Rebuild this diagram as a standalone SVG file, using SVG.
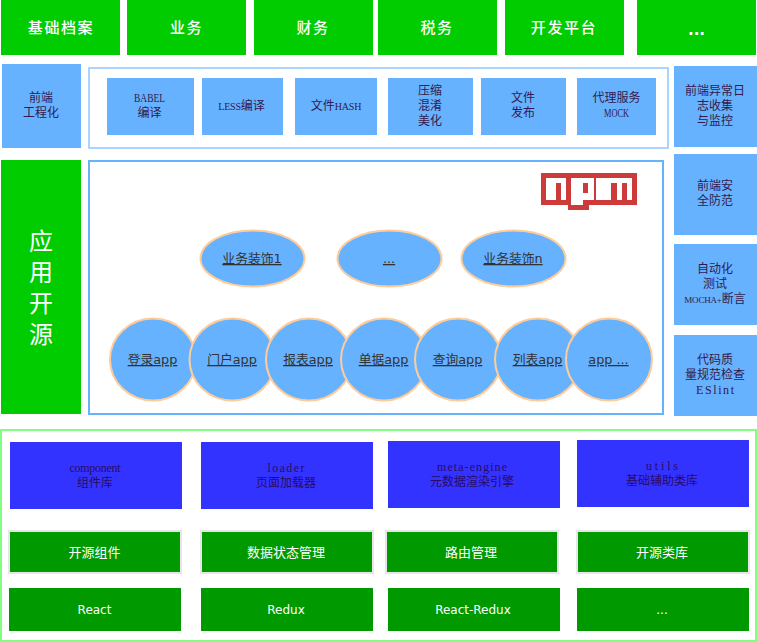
<svg xmlns="http://www.w3.org/2000/svg" width="757" height="642" viewBox="0 0 757 642">
<style>
text{text-anchor:middle}
.top{fill:#00cc00}
.tt{font:500 15px "DejaVu Sans","Noto Sans CJK SC",sans-serif;fill:#fff;letter-spacing:1.6px}
.blue{fill:#66b2ff}
.bt{font:12px "Liberation Serif","Noto Sans CJK SC",serif;fill:#33194d}
.el{fill:#66b2ff;stroke:#ffcc99;stroke-width:2}
.lk{font:12.8px "DejaVu Sans","Noto Sans CJK SC",sans-serif;fill:#333;text-decoration:underline}
.dk{fill:#3333ff}
.dt{font:12px "Liberation Serif","Noto Sans CJK SC",serif;fill:#2b0a66}
.gr{fill:#009900}
.gt{font:13px "DejaVu Sans","Noto Sans CJK SC",sans-serif;fill:#fff}
.gl{font:12px "DejaVu Sans",sans-serif;fill:#fff}
.sm{font-size:10px;letter-spacing:-.2px}
</style>
<rect width="757" height="642" fill="#fff"/>
<g id="top-bar">
<g id="t1"><rect class="top" x="1" y="0" width="119" height="55"/><text class="tt" x="61" y="33">基础档案</text></g>
<g id="t2"><rect class="top" x="127" y="0" width="119" height="55"/><text class="tt" x="186.500" y="33">业务</text></g>
<g id="t3"><rect class="top" x="254" y="0" width="119" height="55"/><text class="tt" x="313" y="33">财务</text></g>
<g id="t4"><rect class="top" x="378" y="0" width="119" height="55"/><text class="tt" x="437" y="33">税务</text></g>
<g id="t5"><rect class="top" x="505" y="0" width="119" height="55"/><text class="tt" x="564" y="33">开发平台</text></g>
<g id="t6"><rect class="top" x="637" y="0" width="119" height="55"/><text class="tt" x="696.500" y="35" style="font-weight:700;letter-spacing:0">...</text></g>
</g>
<g id="engineering">
<g id="fe-eng"><rect class="blue" x="2" y="64" width="79" height="84"/><text class="bt" x="41" y="102">前端</text><text class="bt" x="41" y="117">工程化</text></g>
<rect id="eng-frame" x="89" y="68" width="579" height="80" fill="#fff" stroke="#aad4ff" stroke-width="2"/>
<g id="babel"><rect class="blue" x="107" y="78" width="87" height="57"/><text class="bt" x="149.500" y="102" textLength="31" lengthAdjust="spacingAndGlyphs">BABEL</text><text class="bt" x="149.500" y="117">编译</text></g>
<g id="less"><rect class="blue" x="202" y="78" width="81" height="57"/><text class="bt" x="241.500" y="110"><tspan class="sm">LESS</tspan>编译</text></g>
<g id="hash"><rect class="blue" x="295" y="78" width="82" height="57"/><text class="bt" x="336" y="110">文件<tspan class="sm">HASH</tspan></text></g>
<g id="uglify"><rect class="blue" x="388" y="78" width="85" height="57"/><text class="bt" x="430" y="95">压缩</text><text class="bt" x="430" y="110">混淆</text><text class="bt" x="430" y="125">美化</text></g>
<g id="publish"><rect class="blue" x="481" y="78" width="85" height="57"/><text class="bt" x="523" y="102">文件</text><text class="bt" x="523" y="117">发布</text></g>
<g id="mock"><rect class="blue" x="577" y="78" width="79" height="57"/><text class="bt" x="616.500" y="102">代理服务</text><text class="bt" x="616.500" y="117" textLength="25" lengthAdjust="spacingAndGlyphs">MOCK</text></g>
</g>
<g id="side">
<g id="s1"><rect class="blue" x="674" y="66" width="83" height="81"/><text class="bt" x="715" y="95">前端异常日</text><text class="bt" x="715" y="110">志收集</text><text class="bt" x="715" y="125">与监控</text></g>
<g id="s2"><rect class="blue" x="674" y="154" width="83" height="81"/><text class="bt" x="715" y="190">前端安</text><text class="bt" x="715" y="205">全防范</text></g>
<g id="s3"><rect class="blue" x="674" y="244" width="83" height="81"/><text class="bt" x="715" y="273">自动化</text><text class="bt" x="715" y="288">测试</text><text class="bt" x="715" y="303"><tspan class="sm" style="font-size:9px">MOCHA+</tspan>断言</text></g>
<g id="s4"><rect class="blue" x="674" y="335" width="83" height="81"/><text class="bt" x="715" y="364">代码质</text><text class="bt" x="715" y="379">量规范检查</text><text class="bt" x="715" y="394" textLength="38">ESlint</text></g>
</g>
<g id="app-open"><rect x="1" y="160" width="80" height="254" fill="#00cc00"/>
<g style='font:24px "DejaVu Sans","Noto Sans CJK SC",sans-serif;fill:#fff'><text x="41" y="250">应</text><text x="41" y="281">用</text><text x="41" y="312">开</text><text x="41" y="343">源</text></g></g>
<rect id="app-frame" x="89" y="161" width="574" height="253" fill="#fff" stroke="#66b2ff" stroke-width="2"/>
<g id="npm-logo">
<path fill="#cc3a3a" d="M541 173H637V205H589V210H568V205H541Z"/>
<path fill="#fff" d="M546 178H566V200H561V183H556V200H546ZM571 178H594V200H583V205H571ZM583 183V193H588V183ZM596 178H632V200H627V183H622V200H617V183H611V200H596Z" fill-rule="evenodd"/>
</g>
<g id="decor">
<g id="d1"><ellipse class="el" cx="252.500" cy="258.500" rx="52" ry="28"/><text class="lk" x="252" y="263">业务装饰1</text></g>
<g id="d2"><ellipse class="el" cx="389.500" cy="258.500" rx="52" ry="28"/><text class="lk" x="389" y="263">...</text></g>
<g id="d3"><ellipse class="el" cx="513.500" cy="258.500" rx="52" ry="28"/><text class="lk" x="513" y="263">业务装饰n</text></g>
</g>
<g id="apps">
<g id="a1"><ellipse class="el" cx="153" cy="359.500" rx="43" ry="41"/><text class="lk" x="152.500" y="364">登录app</text></g>
<g id="a2"><ellipse class="el" cx="232.500" cy="359.500" rx="43" ry="41"/><text class="lk" x="232" y="364">门户app</text></g>
<g id="a3"><ellipse class="el" cx="309" cy="359.500" rx="43" ry="41"/><text class="lk" x="308" y="364">报表app</text></g>
<g id="a4"><ellipse class="el" cx="384" cy="359.500" rx="43" ry="41"/><text class="lk" x="383.500" y="364">单据app</text></g>
<g id="a5"><ellipse class="el" cx="458" cy="359.500" rx="43" ry="41"/><text class="lk" x="457.500" y="364">查询app</text></g>
<g id="a6"><ellipse class="el" cx="538" cy="359.500" rx="43" ry="41"/><text class="lk" x="537.500" y="364">列表app</text></g>
<g id="a7"><ellipse class="el" cx="609" cy="359.500" rx="43" ry="41"/><text class="lk" x="608.500" y="364">app ...</text></g>
</g>
<rect id="base-frame" x="1" y="430" width="755" height="211" fill="#fff" stroke="#80ff80" stroke-width="2"/>
<g id="base">
<g id="b1"><rect class="dk" x="10" y="442" width="172" height="67"/><text class="dt" x="95" y="472" textLength="51">component</text><text class="dt" x="95" y="487">组件库</text></g>
<g id="b2"><rect class="dk" x="201" y="442" width="172" height="67"/><text class="dt" x="286" y="472" textLength="37">loader</text><text class="dt" x="286" y="487">页面加载器</text></g>
<g id="b3"><rect class="dk" x="388" y="441" width="172" height="67"/><text class="dt" x="472" y="471" textLength="70">meta-engine</text><text class="dt" x="472" y="486">元数据渲染引擎</text></g>
<g id="b4"><rect class="dk" x="577" y="440" width="172" height="67"/><text class="dt" x="662" y="470" textLength="32">utils</text><text class="dt" x="662" y="485">基础辅助类库</text></g>
<g id="g1"><rect class="gr" x="9" y="531" width="172" height="42" stroke="#e6e6e6" stroke-width="2"/><text class="gt" x="94.500" y="557">开源组件</text></g>
<g id="g2"><rect class="gr" x="201" y="531" width="172" height="42" stroke="#e6e6e6" stroke-width="2"/><text class="gt" x="286" y="557">数据状态管理</text></g>
<g id="g3"><rect class="gr" x="386" y="531" width="172" height="42" stroke="#e6e6e6" stroke-width="2"/><text class="gt" x="471" y="557">路由管理</text></g>
<g id="g4"><rect class="gr" x="577" y="531" width="172" height="42" stroke="#e6e6e6" stroke-width="2"/><text class="gt" x="662" y="557">开源类库</text></g>
<g id="r1"><rect class="gr" x="9" y="588" width="172" height="43"/><text class="gl" x="94.500" y="614">React</text></g>
<g id="r2"><rect class="gr" x="201" y="588" width="172" height="43"/><text class="gl" x="286" y="614">Redux</text></g>
<g id="r3"><rect class="gr" x="388" y="588" width="172" height="43"/><text class="gl" x="473" y="614">React-Redux</text></g>
<g id="r4"><rect class="gr" x="577" y="588" width="172" height="43"/><text class="gl" x="662" y="614">...</text></g>
</g>
</svg>
